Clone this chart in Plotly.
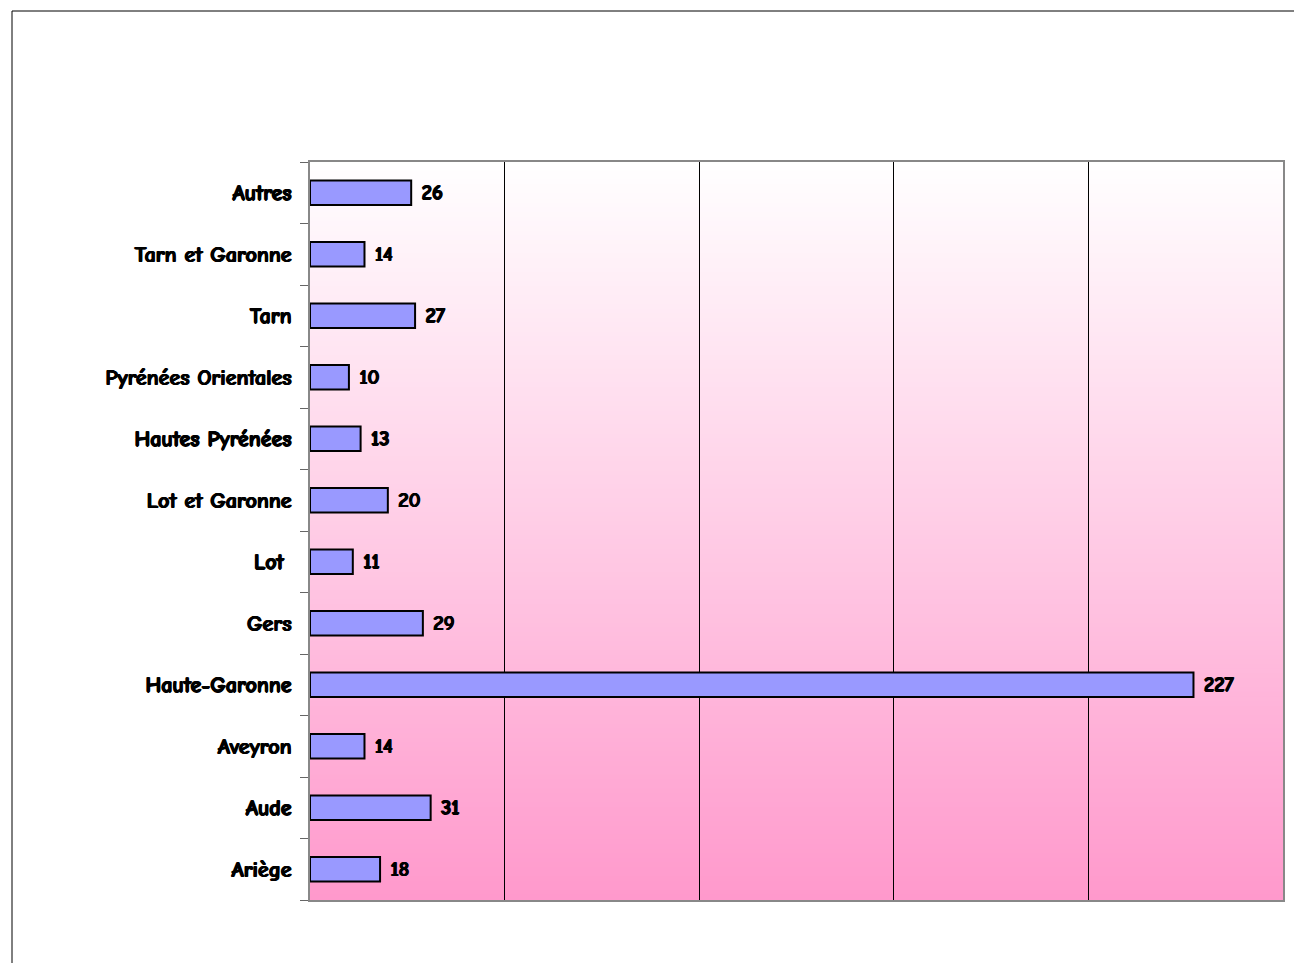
import plotly.graph_objects as go

categories = ["Ariège", "Aude", "Aveyron", "Haute-Garonne", "Gers", "Lot\u00a0",
              "Lot et Garonne", "Hautes Pyrénées", "Pyrénées Orientales", "Tarn",
              "Tarn et Garonne", "Autres"]
values = [18, 31, 14, 227, 29, 11, 20, 13, 10, 27, 14, 26]

FONT = "Comic Sans MS, Comic Neue, Lato, DejaVu Sans, sans-serif"
BOLDISH = "0.7px 0px 0px black, -0.7px 0px 0px black, 0px 0.5px 0px black"

fig = go.Figure()
fig.add_trace(go.Bar(
    y=categories, x=values, orientation="h",
    marker=dict(color="#9999FF", line=dict(color="black", width=2)),
    text=[f"\u00a0<b>{v}</b>" for v in values], textposition="outside",
    textfont=dict(family=FONT, size=22, color="black", weight=700, shadow=BOLDISH),
    cliponaxis=False, hoverinfo="skip",
))

# vertical gradient background (white top -> pink bottom)
shapes = []
n = 160
top = (255, 255, 255)
bot = (255, 153, 204)
for i in range(n):
    t = (i + 0.5) / n
    r = round(top[0] + (bot[0] - top[0]) * t)
    g = round(top[1] + (bot[1] - top[1]) * t)
    b = round(top[2] + (bot[2] - top[2]) * t)
    shapes.append(dict(type="rect", xref="x domain", yref="y domain",
                       x0=0, x1=1, y0=1 - (i + 1) / n, y1=1 - i / n + 0.001,
                       fillcolor=f"rgb({r},{g},{b})", line=dict(width=0),
                       layer="below"))
# outer frame
shapes.append(dict(type="rect", xref="paper", yref="paper",
                   x0=(4 - 302) / 973, x1=1.2, y0=-0.3, y1=1 + (154 - 3) / 738,
                   line=dict(color="black", width=1), fillcolor="rgba(0,0,0,0)",
                   layer="above"))

fig.update_layout(
    width=1302, height=963,
    margin=dict(l=302, r=27, t=154, b=71),
    paper_bgcolor="white", plot_bgcolor="rgba(0,0,0,0)",
    showlegend=False, bargap=0.6,
    shapes=shapes,
    font=dict(family=FONT, size=22, color="black"),
)
fig.update_xaxes(range=[0, 250], dtick=50, showticklabels=False,
                 showgrid=True, gridcolor="black", gridwidth=1,
                 showline=True, linecolor="#888888", linewidth=2, mirror=True,
                 zeroline=False, ticks="")
fig.update_yaxes(type="category", categoryorder="array", categoryarray=categories,
                 ticktext=[f"<b>{c}</b>" for c in categories], tickvals=categories,
                 showline=True, linecolor="#888888", linewidth=2, mirror=True,
                 ticks="outside", tickson="boundaries", ticklen=8, tickcolor="#666666",
                 tickfont=dict(family=FONT, size=22, color="black", weight=700,
                               shadow=BOLDISH),
                 ticklabelstandoff=12, showgrid=False)

fig.write_html("out.html")
